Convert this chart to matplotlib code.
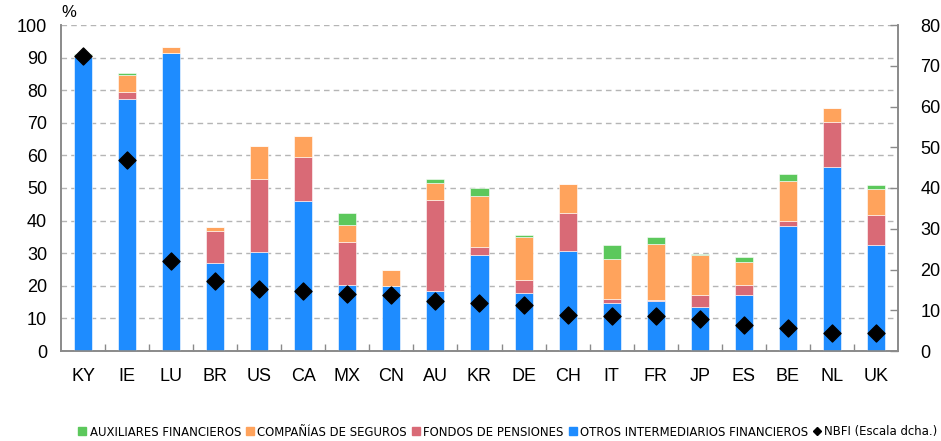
import matplotlib.pyplot as plt
import numpy as np
from matplotlib.patches import Patch
from matplotlib.lines import Line2D
from matplotlib import font_manager

plt.rcParams['font.family'] = ['Liberation Sans', 'DejaVu Sans']

countries = ['KY', 'IE', 'LU', 'BR', 'US', 'CA', 'MX', 'CN', 'AU', 'KR',
             'DE', 'CH', 'IT', 'FR', 'JP', 'ES', 'BE', 'NL', 'UK']

# % share of each sector (stacked, left scale)
otros = [90.1, 77.4, 91.5, 27.1, 30.3, 45.9, 20.2, 19.8, 18.5, 29.3,
         17.7, 30.7, 14.6, 15.3, 13.4, 17.3, 38.4, 56.4, 32.4]
pensiones = [0.0, 2.1, 0.0, 9.8, 22.5, 13.6, 13.2, 0.0, 27.9, 2.7,
             4.2, 11.5, 1.4, 0.2, 3.8, 3.0, 1.5, 13.9, 9.3]
seguros = [0.7, 5.2, 1.6, 1.1, 10.2, 6.5, 5.2, 4.9, 5.0, 15.6,
           13.1, 9.0, 12.1, 17.3, 12.1, 6.9, 12.2, 4.3, 8.1]
auxiliares = [0.3, 0.5, 0.0, 0.0, 0.0, 0.0, 3.7, 0.0, 1.4, 2.5,
              0.6, 0.0, 4.5, 2.2, 0.5, 1.7, 2.2, 0.0, 1.1]
# NBFI, right scale
nbfi = [72.4, 46.9, 22.2, 17.2, 15.3, 14.7, 14.0, 13.8, 12.2, 11.8,
        11.3, 8.8, 8.7, 8.7, 7.9, 6.5, 5.6, 4.5, 4.5]

c_otros = '#1E8CFF'
c_pens = '#D96A76'
c_seg = '#FFA35C'
c_aux = '#5CC85C'
grey = '#8a8a8a'

fig = plt.figure(figsize=(9.41, 4.41), dpi=100)
ax = fig.add_axes([61/941, 1 - 351/441, 837/941, 326/441])
ax2 = ax.twinx()

x = np.arange(len(countries))
w = 0.41
ek = dict(width=w, edgecolor='#ffffffaa', linewidth=0.6, zorder=3)
b0 = np.zeros(len(countries))
ax.bar(x, otros, bottom=b0, color=c_otros, **ek)
b0 = b0 + np.array(otros)
ax.bar(x, pensiones, bottom=b0, color=c_pens, **ek)
b0 = b0 + np.array(pensiones)
ax.bar(x, seguros, bottom=b0, color=c_seg, **ek)
b0 = b0 + np.array(seguros)
ax.bar(x, auxiliares, bottom=b0, color=c_aux, **ek)

ax2.scatter(x, nbfi, marker='D', s=75, color='black', zorder=5)

ax.set_xlim(-0.5, len(countries) - 0.5)
ax.set_ylim(0, 100)
ax2.set_ylim(0, 80)
ax.set_yticks(range(0, 101, 10))
ax2.set_yticks(range(0, 81, 10))
ax.set_xticks(x)
ax.set_xticklabels(countries)
ax.set_xticks(np.arange(-0.5, len(countries), 1)[1:-1], minor=True)

ax.grid(axis='y', linestyle=(0, (4, 3)), color='#b5b5b5', linewidth=1.0, zorder=0)
ax.set_axisbelow(True)

for a in (ax, ax2):
    a.spines['top'].set_visible(False)
    for s in ('left', 'right', 'bottom'):
        a.spines[s].set_color(grey)
        a.spines[s].set_linewidth(1.2)

ax.tick_params(axis='x', which='major', length=0, labelsize=13, pad=12)
ax.tick_params(axis='x', which='minor', direction='in', length=5, color=grey, width=1)
ax.tick_params(axis='y', length=0, labelsize=13, pad=10)
ax2.tick_params(axis='y', direction='in', length=6, color=grey, width=1, labelsize=13, pad=16)

ax.text(0, 1.015, '%', transform=ax.transAxes, fontsize=12, ha='left', va='bottom')

# legend row, condensed type
leg_font = font_manager.FontProperties(family='DejaVu Sans', stretch='condensed', size=9.4)
handles = [Patch(color=c_aux, label='AUXILIARES FINANCIEROS'),
           Patch(color=c_seg, label='COMPAÑÍAS DE SEGUROS'),
           Patch(color=c_pens, label='FONDOS DE PENSIONES'),
           Patch(color=c_otros, label='OTROS INTERMEDIARIOS FINANCIEROS'),
           Line2D([], [], marker='D', color='black', linestyle='none', markersize=4,
                  label='NBFI (Escala dcha.)')]
fig.legend(handles=handles, loc='center', bbox_to_anchor=(508/941, 1 - 432/441), ncol=5,
           frameon=False, handlelength=0.6, handleheight=0.6, handletextpad=0.25,
           columnspacing=0.4, borderpad=0, prop=leg_font)

fig.savefig('out.png', dpi=100)
